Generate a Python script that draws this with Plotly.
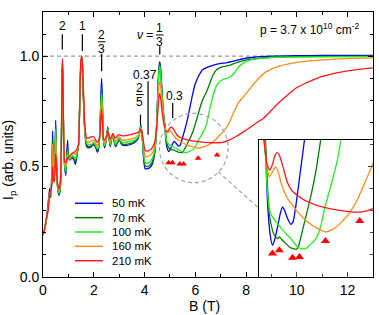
import plotly.graph_objects as go

# ---------------- data ----------------
names = ["50 mK", "70 mK", "100 mK", "160 mK", "210 mK"]
colors = ["#0000FF", "#008000", "#22EE22", "#FF8C1A", "#FF1A1A"]

# shared low-field grid (T)
b_low = [0.00, 0.05, 0.12, 0.20, 0.26, 0.31, 0.35, 0.38, 0.41, 0.45,
         0.50, 0.54, 0.58, 0.63, 0.68, 0.72, 0.75, 0.77, 0.79, 0.82,
         0.86, 0.90, 0.94, 0.97, 1.00, 1.06, 1.14, 1.22, 1.28, 1.34,
         1.40, 1.45, 1.49, 1.53, 1.57, 1.61, 1.66, 1.72, 1.80, 1.90,
         2.00, 2.08, 2.14, 2.19, 2.24, 2.28, 2.31, 2.34, 2.38, 2.43,
         2.49, 2.55, 2.60, 2.65, 2.71, 2.76, 2.81, 2.86, 2.93, 3.00,
         3.10, 3.25, 3.45, 3.62, 3.74, 3.80, 3.85, 3.90, 3.96, 4.02,
         4.10, 4.20, 4.30, 4.40, 4.47, 4.53, 4.57, 4.60, 4.63, 4.68]

ip_low_50 = [0.19, 0.21, 0.25, 0.33, 0.40, 0.36, 0.50, 0.66, 0.48, 0.44,
             0.71, 0.50, 0.40, 0.37, 0.40, 0.55, 0.88, 0.96, 0.85, 0.58,
             0.49, 0.46, 0.57, 0.62, 0.55, 0.53, 0.54, 0.53, 0.51, 0.55,
             0.60, 0.80, 0.96, 0.995, 0.90, 0.74, 0.64, 0.59, 0.585, 0.59,
             0.60, 0.585, 0.565, 0.58, 0.66, 0.82, 0.90, 0.80, 0.62, 0.585,
             0.62, 0.68, 0.63, 0.59, 0.63, 0.645, 0.61, 0.59, 0.605, 0.625,
             0.60, 0.595, 0.60, 0.61, 0.625, 0.65, 0.69, 0.65, 0.54, 0.49,
             0.49, 0.495, 0.51, 0.56, 0.67, 0.86, 0.95, 0.975, 0.95, 0.86]
ip_low_70 = [0.19, 0.21, 0.25, 0.32, 0.39, 0.37, 0.47, 0.62, 0.47, 0.44,
             0.69, 0.50, 0.40, 0.375, 0.40, 0.55, 0.89, 0.965, 0.86, 0.58,
             0.50, 0.47, 0.55, 0.59, 0.54, 0.53, 0.545, 0.535, 0.52, 0.555,
             0.60, 0.80, 0.96, 0.995, 0.91, 0.75, 0.645, 0.60, 0.59, 0.595,
             0.605, 0.59, 0.575, 0.585, 0.65, 0.79, 0.86, 0.77, 0.62, 0.59,
             0.62, 0.675, 0.63, 0.595, 0.63, 0.645, 0.615, 0.595, 0.61, 0.625,
             0.605, 0.60, 0.605, 0.615, 0.63, 0.65, 0.685, 0.65, 0.55, 0.505,
             0.50, 0.505, 0.52, 0.565, 0.665, 0.85, 0.94, 0.965, 0.94, 0.85]
ip_low_100 = [0.19, 0.21, 0.25, 0.31, 0.38, 0.37, 0.45, 0.60, 0.46, 0.44,
              0.67, 0.49, 0.40, 0.38, 0.41, 0.55, 0.90, 0.97, 0.86, 0.58,
              0.50, 0.48, 0.54, 0.57, 0.54, 0.535, 0.55, 0.545, 0.535, 0.56,
              0.60, 0.80, 0.965, 0.997, 0.92, 0.76, 0.65, 0.605, 0.60, 0.60,
              0.61, 0.595, 0.58, 0.59, 0.645, 0.77, 0.83, 0.75, 0.62, 0.595,
              0.62, 0.67, 0.63, 0.60, 0.63, 0.645, 0.62, 0.60, 0.615, 0.63,
              0.61, 0.61, 0.615, 0.62, 0.635, 0.65, 0.68, 0.65, 0.56, 0.52,
              0.515, 0.52, 0.535, 0.575, 0.665, 0.84, 0.93, 0.955, 0.93, 0.84]
ip_low_160 = [0.19, 0.21, 0.25, 0.30, 0.38, 0.38, 0.46, 0.60, 0.47, 0.45,
              0.63, 0.50, 0.41, 0.39, 0.42, 0.56, 0.92, 0.98, 0.87, 0.59,
              0.51, 0.50, 0.53, 0.55, 0.54, 0.545, 0.555, 0.56, 0.555, 0.57,
              0.60, 0.80, 0.97, 1.00, 0.93, 0.77, 0.66, 0.615, 0.61, 0.615,
              0.62, 0.605, 0.595, 0.60, 0.64, 0.75, 0.80, 0.73, 0.625, 0.605,
              0.625, 0.665, 0.635, 0.61, 0.635, 0.645, 0.625, 0.615, 0.625, 0.635,
              0.62, 0.62, 0.625, 0.63, 0.64, 0.65, 0.675, 0.655, 0.59, 0.55,
              0.545, 0.55, 0.56, 0.595, 0.665, 0.80, 0.87, 0.885, 0.87, 0.80]
ip_low_210 = [0.19, 0.21, 0.26, 0.30, 0.37, 0.39, 0.42, 0.50, 0.44, 0.43,
              0.56, 0.47, 0.42, 0.40, 0.43, 0.57, 0.93, 0.99, 0.88, 0.60,
              0.52, 0.52, 0.53, 0.54, 0.54, 0.55, 0.56, 0.565, 0.57, 0.58,
              0.60, 0.80, 0.975, 1.00, 0.94, 0.78, 0.67, 0.63, 0.63, 0.635,
              0.635, 0.62, 0.61, 0.615, 0.64, 0.72, 0.76, 0.70, 0.63, 0.62,
              0.635, 0.66, 0.64, 0.625, 0.64, 0.65, 0.635, 0.63, 0.64, 0.645,
              0.64, 0.64, 0.645, 0.65, 0.655, 0.66, 0.67, 0.655, 0.61, 0.575,
              0.57, 0.575, 0.585, 0.61, 0.67, 0.76, 0.815, 0.83, 0.815, 0.76]

# high-field parts
b_hi_50 = [4.72, 4.76, 4.80, 4.84, 4.90, 4.95, 5.00, 5.06, 5.12, 5.17, 5.22, 5.28,
           5.35, 5.40, 5.46, 5.52, 5.58, 5.64, 5.72, 5.80, 5.90, 6.00, 6.15, 6.30,
           6.60, 6.90, 7.20, 7.50, 7.80, 8.30, 9.00, 10.0, 11.0, 13.0]
ip_hi_50 = [0.78, 0.72, 0.68, 0.62, 0.58, 0.568, 0.575, 0.590, 0.606, 0.614, 0.609, 0.600,
            0.593, 0.596, 0.615, 0.64, 0.665, 0.69, 0.73, 0.775, 0.83, 0.875, 0.915, 0.94,
            0.955, 0.965, 0.97, 0.977, 0.986, 0.995, 1.0, 1.002, 1.003, 1.003]
b_hi_70 = [4.72, 4.76, 4.80, 4.84, 4.88, 4.94, 4.99, 5.06, 5.10, 5.15, 5.24, 5.32,
           5.40, 5.47, 5.52, 5.58, 5.67, 5.76, 5.84, 5.91, 6.02, 6.12, 6.22, 6.32,
           6.45, 6.58, 6.70, 6.85, 7.05, 7.35, 7.60, 7.90, 8.30, 9.00, 10.0, 13.0]
ip_hi_70 = [0.78, 0.73, 0.69, 0.64, 0.605, 0.588, 0.580, 0.576, 0.578, 0.575, 0.570, 0.566,
            0.564, 0.563, 0.567, 0.58, 0.60, 0.62, 0.64, 0.66, 0.70, 0.74, 0.78, 0.81,
            0.84, 0.88, 0.915, 0.94, 0.952, 0.958, 0.97, 0.98, 0.988, 0.995, 0.998, 1.0]
b_hi_100 = [4.72, 4.76, 4.80, 4.84, 4.90, 4.96, 5.02, 5.10, 5.21, 5.35, 5.50, 5.58,
            5.68, 5.76, 5.86, 5.94, 6.02, 6.09, 6.18, 6.27, 6.37, 6.46, 6.55, 6.63,
            6.72, 6.82, 6.95, 7.10, 7.25, 7.40, 7.55, 7.70, 7.85, 8.10, 8.60, 9.50, 13.0]
ip_hi_100 = [0.78, 0.72, 0.67, 0.63, 0.607, 0.601, 0.597, 0.591, 0.584, 0.576, 0.566, 0.564,
             0.564, 0.568, 0.573, 0.580, 0.594, 0.612, 0.630, 0.648, 0.67, 0.70, 0.75, 0.79,
             0.83, 0.862, 0.884, 0.895, 0.90, 0.908, 0.925, 0.95, 0.965, 0.98, 0.99, 0.996, 0.998]
b_hi_160 = [4.72, 4.77, 4.83, 4.88, 4.95, 5.02, 5.08, 5.13, 5.20, 5.28, 5.40, 5.50,
            5.72, 5.94, 6.13, 6.35, 6.60, 6.82, 7.01, 7.12, 7.25, 7.40, 7.55, 7.70,
            7.85, 8.00, 8.20, 8.50, 8.80, 9.30, 10.0, 10.6, 11.5, 12.2, 13.0]
ip_hi_160 = [0.75, 0.692, 0.662, 0.650, 0.656, 0.662, 0.655, 0.644, 0.633, 0.624, 0.615, 0.608,
             0.596, 0.588, 0.584, 0.590, 0.604, 0.624, 0.648, 0.662, 0.68, 0.715, 0.755, 0.79,
             0.81, 0.83, 0.86, 0.90, 0.93, 0.955, 0.972, 0.98, 0.987, 0.99, 0.992]
b_hi_210 = [4.72, 4.77, 4.83, 4.89, 4.95, 5.00, 5.05, 5.10, 5.17, 5.27, 5.38, 5.49,
            5.65, 5.82, 6.04, 6.38, 6.67, 6.90, 7.11, 7.35, 7.60, 8.00, 8.40, 8.70,
            9.00, 9.30, 9.65, 9.96, 10.3, 10.6, 11.0, 11.4, 12.0, 12.5, 13.0]
ip_hi_210 = [0.72, 0.69, 0.665, 0.658, 0.665, 0.675, 0.679, 0.676, 0.664, 0.644, 0.633, 0.628,
             0.622, 0.618, 0.614, 0.610, 0.608, 0.608, 0.611, 0.621, 0.636, 0.665, 0.697, 0.72,
             0.755, 0.79, 0.825, 0.855, 0.875, 0.89, 0.908, 0.92, 0.933, 0.941, 0.947]

# red triangles marking the minima
tri_b = [4.95, 5.10, 5.39, 5.54, 6.11, 6.86]
tri_ip_main = [0.517, 0.517, 0.512, 0.512, 0.538, 0.553]
tri_ip_inset = [0.558, 0.562, 0.553, 0.554, 0.573, 0.597]

x_tick_step = 2
y_tick_step = 0.5

# ---------------- layout constants ----------------
W, H = 379, 315
ML, MR, MT, MB = 43, 6, 12, 38
PW, PH = W - ML - MR, H - MT - MB
XR = [0, 13]
YR = [0, 1.2]
INSET_XR = [4.66, 7.15]
INSET_YR = [0.530, 0.694]
INSET_LEFT_B = 8.52
INSET_TOP_IP = 0.62
FONT = "Liberation Sans, Arial, sans-serif"


def px2paper(px, py):
    return (px - ML) / PW, (H - MB - py) / PH


series_b = [b_low + b_hi_50, b_low + b_hi_70, b_low + b_hi_100, b_low + b_hi_160, b_low + b_hi_210]
series_ip = [ip_low_50 + ip_hi_50, ip_low_70 + ip_hi_70, ip_low_100 + ip_hi_100,
             ip_low_160 + ip_hi_160, ip_low_210 + ip_hi_210]

fig = go.Figure()
for name, col, b, ip in zip(names, colors, series_b, series_ip):
    fig.add_trace(go.Scatter(x=b, y=ip, mode="lines", name=name, showlegend=False,
                             line=dict(color=col, width=1.3, shape="spline", smoothing=0.5),
                             xaxis="x", yaxis="y", hoverinfo="skip"))
fig.add_trace(go.Scatter(x=tri_b, y=tri_ip_main, mode="markers", showlegend=False,
                         marker=dict(symbol="triangle-up", size=6, color="#FF0000"),
                         xaxis="x", yaxis="y"))
for name, col, b, ip in zip(names, colors, series_b, series_ip):
    fig.add_trace(go.Scatter(x=b, y=ip, mode="lines", name=name, showlegend=False,
                             line=dict(color=col, width=1.3, shape="spline", smoothing=0.5),
                             xaxis="x2", yaxis="y2", hoverinfo="skip"))
fig.add_trace(go.Scatter(x=tri_b, y=tri_ip_inset, mode="markers", showlegend=False,
                         marker=dict(symbol="triangle-up", size=8, color="#FF0000"),
                         xaxis="x2", yaxis="y2"))


# inset ticks that reproduce the main-axis ticks hidden under the inset
def b_to_inset(v):
    return INSET_XR[0] + (v - INSET_LEFT_B) / (XR[1] - INSET_LEFT_B) * (INSET_XR[1] - INSET_XR[0])


def ip_to_inset(v):
    return INSET_YR[0] + (v - YR[0]) / (INSET_TOP_IP - YR[0]) * (INSET_YR[1] - INSET_YR[0])


xmaj = [b_to_inset(v) for v in range(10, 13, 2)]
xmin = [b_to_inset(v) for v in range(9, 13, 2)]
ymaj = [ip_to_inset(0.5)]
ymin = [ip_to_inset(v / 10) for v in (1, 2, 3, 4, 6)]

axis_common = dict(showline=True, linecolor="black", linewidth=1, showgrid=False,
                   zeroline=False, ticks="inside", ticklen=5, tickcolor="black", tickwidth=1,
                   tickfont=dict(size=14, color="black", family=FONT))

fig.update_layout(
    width=W, height=H,
    margin=dict(l=ML, r=MR, t=MT, b=MB, pad=0),
    paper_bgcolor="white", plot_bgcolor="white",
    font=dict(family=FONT, color="black"),
    showlegend=False,
    xaxis=dict(range=XR, domain=[0, 1], tick0=0, dtick=x_tick_step, mirror="ticks",
               minor=dict(dtick=1, ticklen=3, ticks="inside", tickcolor="black"),
               **axis_common),
    yaxis=dict(range=YR, domain=[0, 1], tick0=0, dtick=y_tick_step, tickformat=".1f", mirror="ticks",
               minor=dict(dtick=0.1, ticklen=3, ticks="inside", tickcolor="black"),
               **axis_common),
    xaxis2=dict(range=INSET_XR, domain=[INSET_LEFT_B / XR[1], 1], anchor="y2",
                showline=True, linecolor="black", linewidth=1, mirror=True, showgrid=False,
                zeroline=False, showticklabels=False, ticks="inside", ticklen=5,
                tickvals=xmaj, minor=dict(tickvals=xmin, ticklen=3, ticks="inside")),
    yaxis2=dict(range=INSET_YR, domain=[0, INSET_TOP_IP / YR[1]], anchor="x2", side="right",
                showline=True, linecolor="black", linewidth=1, mirror=True, showgrid=False,
                zeroline=False, showticklabels=False, ticks="inside", ticklen=5,
                tickvals=ymaj, minor=dict(tickvals=ymin, ticklen=3, ticks="inside")),
)

shapes = []
# dashed line at 1.0
shapes.append(dict(type="line", xref="x", yref="y", x0=XR[0], x1=XR[1], y0=1.0, y1=1.0,
                   line=dict(color="#999999", width=1.2, dash="4px,3px"), layer="below"))
# dashed circle and connector to inset
cB, cI, rB, rI = 5.94, 0.584, 1.353, 0.157
shapes.append(dict(type="circle", xref="x", yref="y", x0=cB - rB, x1=cB + rB, y0=cI - rI, y1=cI + rI,
                   line=dict(color="#A0A0A0", width=1.2, dash="4px,3px"), layer="above"))
shapes.append(dict(type="line", xref="x", yref="y", x0=6.90, y0=0.477, x1=INSET_LEFT_B, y1=0.31,
                   line=dict(color="#A0A0A0", width=1.2, dash="4px,3px"), layer="above"))
# filling-factor marker lines
marks = [(0.76, 1.099, 1.030), (1.55, 1.099, 1.023), (2.31, 1.011, 0.932), (4.60, 1.045, 1.008),
         (3.84, 0.735, 0.690), (4.14, 0.886, 0.644), (5.11, 0.788, 0.720)]
for xb, y0, y1 in marks:
    shapes.append(dict(type="line", xref="x", yref="y", x0=xb, x1=xb, y0=y0, y1=y1,
                       line=dict(color="black", width=1.2), layer="above"))
# fraction bars
fracs = [(2.31, 1.065, "2", "3"), (4.60, 1.096, "1", "3"), (3.82, 0.826, "2", "5")]
for xb, yb, num, den in fracs:
    shapes.append(dict(type="line", xref="x", yref="y", x0=xb - 0.15, x1=xb + 0.15, y0=yb, y1=yb,
                       line=dict(color="black", width=1), layer="above"))

annotations = []
for xb, yb, num, den in fracs:
    annotations.append(dict(x=xb, y=yb, xref="x", yref="y", text=num, showarrow=False,
                            xanchor="center", yanchor="middle", yshift=7, font=dict(size=12)))
    annotations.append(dict(x=xb, y=yb, xref="x", yref="y", text=den, showarrow=False,
                            xanchor="center", yanchor="middle", yshift=-7, font=dict(size=12)))
for txt, xb, yb in [("2", 0.78, 1.136), ("1", 1.55, 1.136), ("0.37", 4.01, 0.913), ("0.3", 5.19, 0.818)]:
    annotations.append(dict(x=xb, y=yb, xref="x", yref="y", text=txt, showarrow=False,
                            xanchor="center", yanchor="middle", font=dict(size=12)))
annotations.append(dict(x=4.42, y=1.098, xref="x", yref="y", text="<i>ν</i> =", showarrow=False,
                        xanchor="right", yanchor="middle", font=dict(size=12)))
annotations.append(dict(x=12.56, y=1.121, xref="x", yref="y",
                        text="p = 3.7 x 10<sup>10</sup> cm<sup>-2</sup>", showarrow=False,
                        xanchor="right", yanchor="middle", font=dict(size=12)))
# axis titles
tx, ty = px2paper(9, 160)
annotations.append(dict(x=tx, y=ty, xref="paper", yref="paper", text="I<sub>p</sub> (arb. units)",
                        textangle=-90, showarrow=False, xanchor="center", yanchor="middle",
                        font=dict(size=14)))
tx, ty = px2paper(204, 306)
annotations.append(dict(x=tx, y=ty, xref="paper", yref="paper", text="B (T)",
                        showarrow=False, xanchor="center", yanchor="middle", font=dict(size=14)))

# manual legend
for i, (name, col) in enumerate(zip(names, colors)):
    py = 203.3 + i * 14.35
    x0, yy = px2paper(75, py)
    x1, _ = px2paper(103, py)
    xt, _ = px2paper(110, py)
    shapes.append(dict(type="line", xref="paper", yref="paper", x0=x0, x1=x1, y0=yy, y1=yy,
                       line=dict(color=col, width=1.5), layer="above"))
    annotations.append(dict(x=xt, y=yy, xref="paper", yref="paper", text=name, showarrow=False,
                            xanchor="left", yanchor="middle", font=dict(size=11.5)))

fig.update_layout(shapes=shapes, annotations=annotations)
fig.write_html("out.html", config={"displayModeBar": False},
               post_script="document.body.style.margin='0';document.body.style.overflow='hidden';")
